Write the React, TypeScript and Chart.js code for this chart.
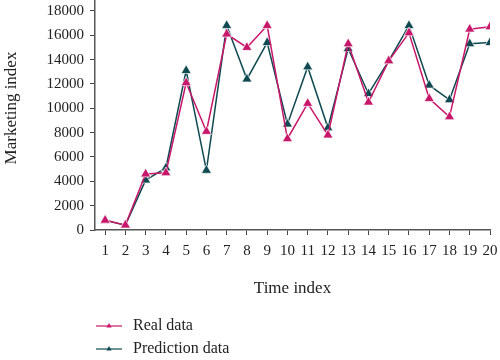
import React, { useEffect, useRef } from "react";
import { Chart, registerables } from "chart.js";

Chart.register(...registerables);

const timeIndex = [1, 2, 3, 4, 5, 6, 7, 8, 9, 10, 11, 12, 13, 14, 15, 16, 17, 18, 19, 20];
const realData = [800, 400, 4600, 4700, 12100, 8100, 16100, 15000, 16800, 7500, 10400, 7800, 15300, 10500, 13900, 16200, 10800, 9300, 16500, 16700];
const predictionData = [800, 400, 4100, 5100, 13100, 4900, 16800, 12400, 15400, 8700, 13400, 8400, 14900, 11200, 13900, 16800, 11900, 10700, 15300, 15400];
const yTicks = [0, 2000, 4000, 6000, 8000, 10000, 12000, 14000, 16000, 18000];
const xTitle = "Time index";
const yTitle = "Marketing index";

const PINK = "#c8176a";
const TEAL = "#0f4a52";
const FONT = "'Liberation Serif', 'DejaVu Serif', serif";

const legendPlugin = {
  id: "stackedLegend",
  afterDraw(chart: any) {
    const ctx = chart.ctx;
    ctx.save();
    chart.data.datasets.forEach((ds: any, i: number) => {
      const y = 326 + i * 23;
      const x0 = 96;
      const x1 = 122;
      ctx.strokeStyle = ds.borderColor;
      ctx.lineWidth = 1.2;
      ctx.beginPath();
      ctx.moveTo(x0, y);
      ctx.lineTo(x1, y);
      ctx.stroke();
      const cx = (x0 + x1) / 2;
      ctx.fillStyle = ds.borderColor;
      ctx.beginPath();
      ctx.moveTo(cx, y - 3);
      ctx.lineTo(cx + 2.6, y + 1.5);
      ctx.lineTo(cx - 2.6, y + 1.5);
      ctx.closePath();
      ctx.fill();
      ctx.fillStyle = "#222";
      ctx.font = `16px ${FONT}`;
      ctx.textBaseline = "middle";
      ctx.textAlign = "left";
      ctx.fillText(ds.label, 133, y);
    });
    // y axis title
    ctx.translate(12, 108);
    ctx.rotate(-Math.PI / 2);
    ctx.fillStyle = "#222";
    ctx.font = `17px ${FONT}`;
    ctx.textAlign = "center";
    ctx.textBaseline = "middle";
    ctx.fillText(yTitle, 0, 0);
    ctx.restore();
  },
};

export default function App() {
  const ref = useRef<HTMLCanvasElement>(null);
  useEffect(() => {
    document.body.style.margin = "0";
    const canvas = ref.current!;
    const chart = new Chart(canvas, {
      type: "line",
      data: {
        datasets: [
          {
            label: "Real data",
            data: timeIndex.map((t, i) => ({ x: t, y: realData[i] })),
            borderColor: PINK,
            backgroundColor: PINK,
            borderWidth: 1.5,
            pointStyle: "triangle",
            pointRadius: 5.8,
            pointBorderColor: "rgba(255,255,255,0.85)",
            pointBorderWidth: 0.8,
            pointBackgroundColor: PINK,
            tension: 0,
          },
          {
            label: "Prediction data",
            data: timeIndex.map((t, i) => ({ x: t, y: predictionData[i] })),
            borderColor: TEAL,
            backgroundColor: TEAL,
            borderWidth: 1.5,
            pointStyle: "triangle",
            pointRadius: 5.8,
            pointBorderColor: "rgba(255,255,255,0.85)",
            pointBorderWidth: 0.8,
            pointBackgroundColor: TEAL,
            tension: 0,
          },
        ],
      },
      options: {
        animation: false,
        responsive: false,
        devicePixelRatio: 1,
        layout: { autoPadding: false, padding: { top: 0, right: 10, bottom: 50, left: 0 } },
        plugins: {
          legend: { display: false },
          tooltip: { enabled: false },
        },
        scales: {
          x: {
            type: "linear",
            min: 0.5,
            max: 20,
            afterBuildTicks: (scale: any) => {
              scale.ticks = timeIndex.map((v) => ({ value: v }));
            },
            afterFit: (scale: any) => {
              scale.height = 80;
              scale.paddingLeft = 0;
              scale.paddingRight = 0;
            },
            grid: {
              display: true,
              drawOnChartArea: false,
              drawTicks: true,
              tickLength: 5,
              color: "#444",
              lineWidth: 1,
            },
            border: { display: true, color: "#555", width: 1.5 },
            ticks: {
              autoSkip: false,
              maxRotation: 0,
              padding: 7,
              color: "#222",
              font: { family: FONT, size: 15 },
              callback: (v: any) => String(v),
            },
            title: {
              display: true,
              text: xTitle,
              color: "#222",
              font: { family: FONT, size: 17 },
              padding: { top: 0, bottom: 11 },
            },
          },
          y: {
            type: "linear",
            min: 0,
            max: 18900,
            afterBuildTicks: (scale: any) => {
              scale.ticks = yTicks.map((v) => ({ value: v }));
            },
            afterFit: (scale: any) => {
              scale.width = 95;
              scale.paddingTop = 0;
              scale.paddingBottom = 0;
            },
            grid: {
              display: true,
              drawOnChartArea: false,
              drawTicks: true,
              tickLength: 5,
              color: "#444",
              lineWidth: 1,
            },
            border: { display: true, color: "#555", width: 1.5 },
            ticks: {
              padding: 6,
              color: "#222",
              font: { family: FONT, size: 15 },
              callback: (v: any) => String(v),
            },
            title: { display: false },
          },
        },
      },
      plugins: [legendPlugin],
    } as any);
    return () => chart.destroy();
  }, []);
  return (
    <div style={{ width: 500, height: 360 }}>
      <canvas ref={ref} width={500} height={360} style={{ display: "block" }} />
    </div>
  );
}
